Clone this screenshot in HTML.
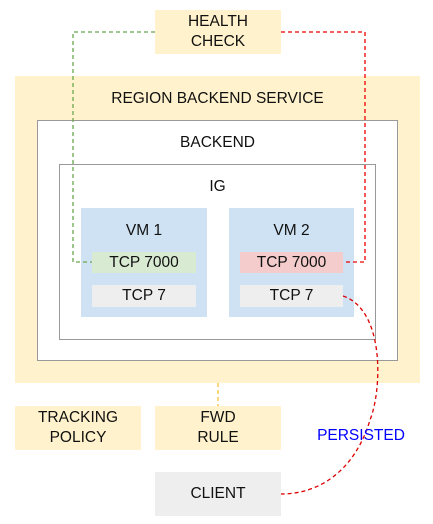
<!DOCTYPE html>
<html><head><style>
body{margin:0;width:433px;height:524px;background:#fff;position:relative;overflow:hidden;font-family:"Liberation Sans",sans-serif;}
.b{position:absolute;display:flex;align-items:center;justify-content:center;text-align:center;font-size:15.5px;color:#111;line-height:20px;box-sizing:border-box;}
.y{background:#fff2cc;}
</style></head><body>
<div class="b y" style="left:15px;top:76px;width:405px;height:307px;align-items:flex-start;padding-top:13px">REGION BACKEND SERVICE</div>
<div class="b" style="left:37px;top:120px;width:361px;height:241px;background:#fff;border:1.5px solid #999;align-items:flex-start;padding-top:12px">BACKEND</div>
<div class="b" style="left:59px;top:164px;width:317px;height:176px;border:1.5px solid #999;align-items:flex-start;padding-top:12px">IG</div>
<div class="b" style="left:81px;top:208px;width:126px;height:109px;background:#cfe2f3;align-items:flex-start;padding-top:13px">VM 1</div>
<div class="b" style="left:229px;top:208px;width:125px;height:109px;background:#cfe2f3;align-items:flex-start;padding-top:13px">VM 2</div>
<div class="b" style="left:92px;top:252px;width:104px;height:21px;background:#d9ead3">TCP 7000</div>
<div class="b" style="left:92px;top:285px;width:104px;height:22px;background:#eeeeee">TCP 7</div>
<div class="b" style="left:240px;top:252px;width:103px;height:21px;background:#f4cccc">TCP 7000</div>
<div class="b" style="left:240px;top:285px;width:103px;height:22px;background:#eeeeee">TCP 7</div>
<div class="b y" style="left:155px;top:10px;width:126px;height:44px">HEALTH<br>CHECK</div>
<div class="b y" style="left:15px;top:406px;width:126px;height:44px">TRACKING<br>POLICY</div>
<div class="b y" style="left:155px;top:406px;width:126px;height:44px">FWD<br>RULE</div>
<div class="b" style="left:155px;top:472px;width:126px;height:44px;background:#eeeeee">CLIENT</div>
<svg width="433" height="524" style="position:absolute;left:0;top:0" fill="none" stroke-width="1.3" stroke-dasharray="4,3">
<path d="M155 32 H73 V262 H92" stroke="#6aa84f"/>
<path d="M281 32 H365 V262 H343" stroke="#e00"/>
<path d="M218 383 V406" stroke="#f1c232"/>
<path d="M343 296 C385 310 382 390 370 420 C355 470 320 494 281 494" stroke="#d00"/>
</svg>
<div class="b" style="left:313px;top:426px;width:96px;height:20px;color:#00f">PERSISTED</div>
</body></html>
